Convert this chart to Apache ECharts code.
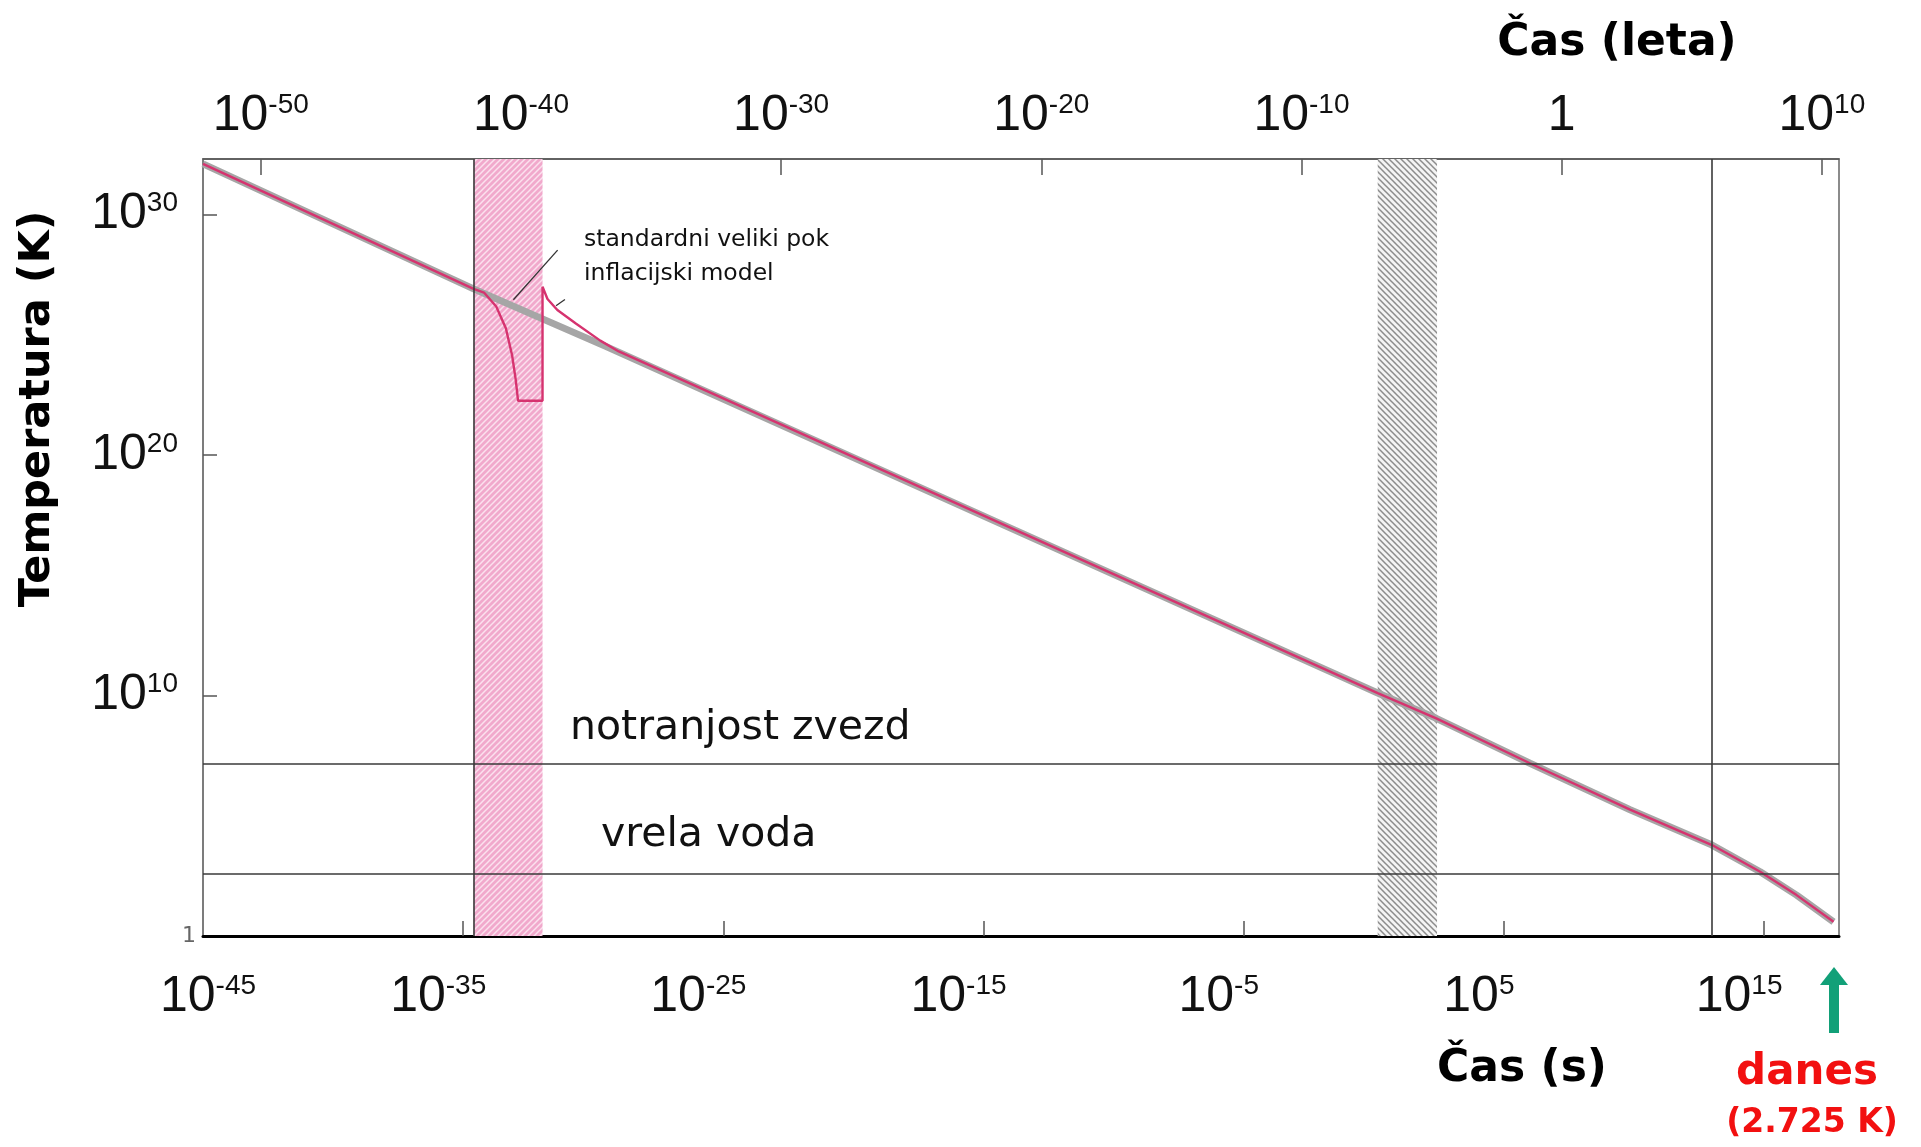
<!DOCTYPE html>
<html>
<head>
<meta charset="utf-8">
<title>Temperatura vesolja</title>
<script src="https://cdn.jsdelivr.net/npm/echarts@6/dist/echarts.min.js"></script>
<style>
  html, body { margin: 0; padding: 0; background: #fff; }
  #chart { width: 1921px; height: 1147px; }
</style>
</head>
<body>
<div id="chart"></div>
<script>
// values are log10: time in seconds, temperature in K
const stdTime = [-45.0, -34.6, -29.5, -1.7, 0.15, 2.4, 6.0, 9.85, 13.0, 14.85, 16.25, 17.67]
const stdTemp = [32.1, 26.9, 24.5, 11.0, 10.1, 9.05, 7.18, 5.25, 3.78, 2.67, 1.7, 0.59]

// inflation model: leaves the standard curve at the band, rejoins later
const inflTime = [-34.2, -33.73, -33.36, -33.12, -32.98, -32.89, -31.95, -31.95, -31.76, -31.38, -30.67, -29.73, -29.02]
const inflTemp = [26.75, 26.17, 25.26, 24.14, 23.12, 22.25, 22.25, 26.99, 26.48, 26.02, 25.46, 24.75, 24.3]

const inflationBand = [-34.6, -31.95]
const nucleoBand = [0.15, 2.43]
const starLevel = 7.15
const boilLevel = 2.58
const recombTime = 13.0

const pointerLines = [
  [[-31.37, 28.51], [-33.07, 26.45]],
  [[-31.09, 26.46], [-31.43, 26.2]]
]

const secLabelExp = [-45, -35, -25, -15, -5, 5, 15]
const secTickExp = [-35, -25, -15, -5, 5, 15]
const yearExp = [-50, -40, -30, -20, -10, 0, 10]
const tempLabelExp = [0, 10, 20, 30]
const tempTickExp = [10, 20, 30]

const timeMin = -45, timeMax = 17.88
const yearShift = 7.22 // offset between the two time scales as drawn

const narrow = "'Liberation Sans Narrow', 'Liberation Sans', sans-serif"
const sans = "'DejaVu Sans', sans-serif"

function hatch(bg, fg, up) {
  const c = document.createElement('canvas')
  c.width = 6; c.height = 6
  const ctx = c.getContext('2d')
  ctx.fillStyle = bg
  ctx.fillRect(0, 0, 6, 6)
  ctx.strokeStyle = fg
  ctx.lineWidth = 1.5
  ctx.beginPath()
  if (up) {
    ctx.moveTo(-1, 7); ctx.lineTo(7, -1)
    ctx.moveTo(-1, 1); ctx.lineTo(1, -1)
    ctx.moveTo(5, 7); ctx.lineTo(7, 5)
  } else {
    ctx.moveTo(-1, -1); ctx.lineTo(7, 7)
    ctx.moveTo(5, -1); ctx.lineTo(7, 1)
    ctx.moveTo(-1, 5); ctx.lineTo(1, 7)
  }
  ctx.stroke()
  return { image: c, repeat: 'repeat' }
}

const sup = v => v === 0 ? '{b|1}' : '{b|10}{s|' + v + '}'
const tickRich = {
  b: { fontFamily: narrow, fontSize: 50, lineHeight: 50, color: '#111' },
  s: { fontFamily: narrow, fontSize: 28, lineHeight: 28, verticalAlign: 'top', color: '#111' },
  p: { width: 60 }
}
const yRich = {
  b: tickRich.b,
  s: { fontFamily: narrow, fontSize: 28, lineHeight: 28, verticalAlign: 'top', color: '#111', padding: [0, 18, 0, 0] },
  one: { fontFamily: sans, fontSize: 22, color: '#666' }
}

const stdData = stdTime.map((t, i) => [t, stdTemp[i]])
const inflData = stdData.filter(p => p[0] <= inflationBand[0])
  .concat(inflTime.map((t, i) => [t, inflTemp[i]]))
  .concat(stdData.filter(p => p[0] > inflTime[inflTime.length - 1]))

const chart = echarts.init(document.getElementById('chart'))

let option = {
  animation: false,
  backgroundColor: '#fff',
  grid: { left: 203, right: 82, top: 159, bottom: 211, show: true, borderColor: '#666', borderWidth: 1.5 },
  xAxis: [
    {
      type: 'value', position: 'bottom', min: timeMin, max: timeMax,
      axisLine: { onZero: false, lineStyle: { color: '#000', width: 3 } },
      axisTick: { inside: true, length: 15, customValues: secTickExp, lineStyle: { color: '#555', width: 1.5 } },
      axisLabel: {
        customValues: secLabelExp, rich: tickRich, margin: 36, padding: [0, 50, 0, 0],
        // first label sits a little inside the corner, as in the figure
        formatter: v => (v === timeMin ? '{p|}' : '') + sup(v)
      },
      splitLine: { show: false }
    },
    {
      type: 'value', position: 'top', min: timeMin - yearShift, max: timeMax - yearShift,
      axisLine: { onZero: false, lineStyle: { color: '#555', width: 1.5 } },
      axisTick: { inside: true, length: 16, customValues: yearExp, lineStyle: { color: '#555', width: 1.5 } },
      axisLabel: { customValues: yearExp, formatter: sup, rich: tickRich, margin: 18 },
      splitLine: { show: false }
    }
  ],
  yAxis: {
    type: 'value', min: 0, max: 32.3,
    axisLine: { show: true, onZero: false, lineStyle: { color: '#777', width: 1.5 } },
    axisTick: { show: true, inside: true, length: 14, customValues: tempTickExp, lineStyle: { color: '#555', width: 1.5 } },
    axisLabel: { customValues: tempLabelExp, formatter: v => v === 0 ? '{one|1}' : sup(v), rich: yRich, margin: 7 },
    splitLine: { show: false }
  },
  series: [
    {
      type: 'line', data: [], z: 1, silent: true,
      markArea: {
        silent: true,
        data: [
          [{ xAxis: inflationBand[0], itemStyle: { color: hatch('#f1a9cc', '#fbe1ee', true) } }, { xAxis: inflationBand[1] }],
          [{ xAxis: nucleoBand[0], itemStyle: { color: hatch('#f4f4f4', '#8c8c8c', false) } }, { xAxis: nucleoBand[1] }]
        ]
      },
      markLine: {
        silent: true, symbol: 'none', label: { show: false },
        lineStyle: { color: '#3a3a3a', width: 1.6, type: 'solid' },
        data: [
          { yAxis: starLevel }, { yAxis: boilLevel },
          { xAxis: inflationBand[0] }, { xAxis: recombTime }
        ]
      }
    },
    {
      name: 'standardni veliki pok', type: 'line', data: stdData, symbol: 'none', z: 3,
      lineStyle: { color: '#a6a6a6', width: 7 }
    },
    {
      name: 'inflacijski model', type: 'line', data: inflData, symbol: 'none', z: 4,
      lineStyle: { color: '#d6336f', width: 2.4 }
    },
    {
      type: 'lines', coordinateSystem: 'cartesian2d', z: 5, silent: true,
      data: pointerLines.map(c => ({ coords: c })),
      lineStyle: { color: '#333', width: 1.3, opacity: 1 }
    }
  ],
  graphic: [
    { type: 'text', x: 1617, y: 44, style: { text: 'Čas (leta)', font: 'bold 44px ' + sans, fill: '#000', align: 'center', verticalAlign: 'middle' } },
    { type: 'text', x: 1522, y: 1070, style: { text: 'Čas (s)', font: 'bold 44px ' + sans, fill: '#000', align: 'center', verticalAlign: 'middle' } },
    { type: 'text', x: 1807, y: 1073, style: { text: 'danes', font: 'bold 42px ' + sans, fill: '#f21010', align: 'center', verticalAlign: 'middle' } },
    { type: 'text', x: 1812, y: 1123, style: { text: '(2.725 K)', font: 'bold 33px ' + sans, fill: '#f21010', align: 'center', verticalAlign: 'middle' } },
    { type: 'text', x: 38, y: 409, rotation: Math.PI / 2, style: { text: 'Temperatura (K)', font: 'bold 43px ' + sans, fill: '#000', align: 'center', verticalAlign: 'middle' } },
    { type: 'text', x: 570, y: 728, style: { text: 'notranjost zvezd', font: '41px ' + sans, fill: '#111', align: 'left', verticalAlign: 'middle' } },
    { type: 'text', x: 601, y: 835, style: { text: 'vrela voda', font: '41px ' + sans, fill: '#111', align: 'left', verticalAlign: 'middle' } },
    { type: 'text', x: 584, y: 240, style: { text: 'standardni veliki pok', font: '23.5px ' + sans, fill: '#111', align: 'left', verticalAlign: 'middle' } },
    { type: 'text', x: 584, y: 274, style: { text: 'inflacijski model', font: '23.5px ' + sans, fill: '#111', align: 'left', verticalAlign: 'middle' } },
    { type: 'rect', shape: { x: 1829, y: 982, width: 10, height: 51 }, style: { fill: '#12a078' } },
    { type: 'polygon', shape: { points: [[1820, 985], [1834, 967], [1848, 985]] }, style: { fill: '#12a078' } }
  ]
}

chart.setOption(option)
</script>
</body>
</html>
